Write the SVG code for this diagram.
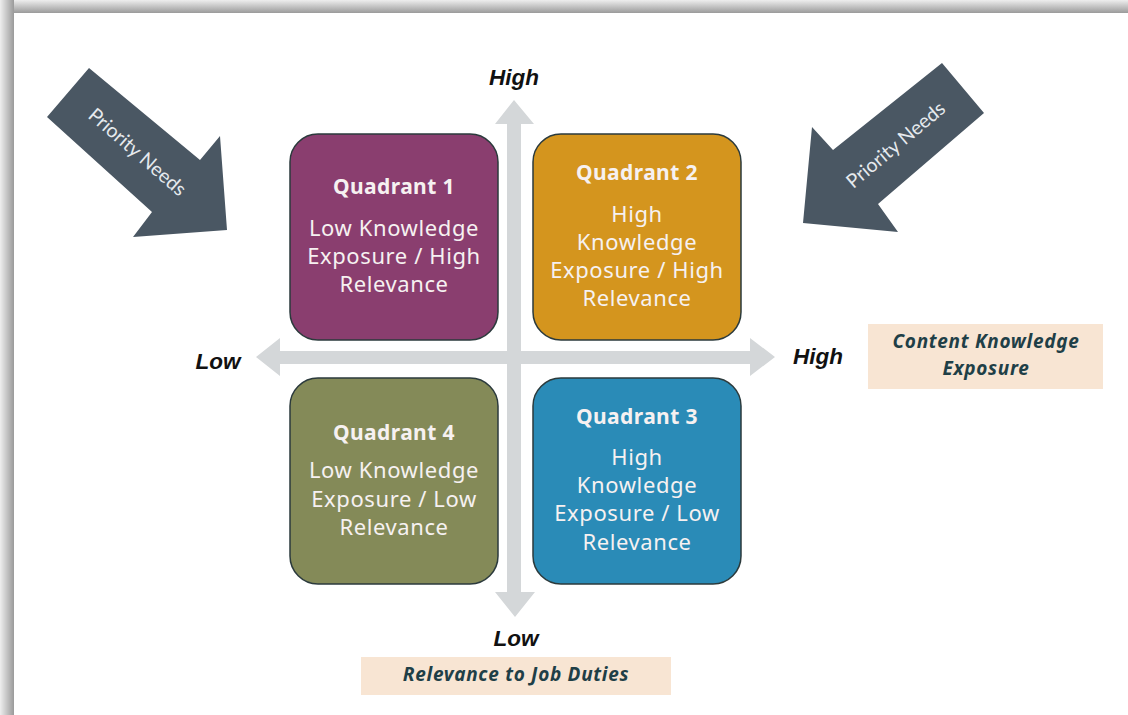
<svg xmlns="http://www.w3.org/2000/svg" width="1128" height="715" viewBox="0 0 1128 715">
<defs>
<linearGradient id="gTop" x1="0" y1="0" x2="0" y2="1">
<stop offset="0" stop-color="#eeeeee"/><stop offset="1" stop-color="#9a9a9a"/>
</linearGradient>
<linearGradient id="gLeft" x1="0" y1="0" x2="1" y2="0">
<stop offset="0" stop-color="#eeeeee"/><stop offset="1" stop-color="#9a9a9a"/>
</linearGradient>
<style>
.q{stroke:#2b3a3c;stroke-width:1.5}
.qt{font-family:"Noto Sans","Open Sans",sans-serif;font-weight:bold;font-size:21px;letter-spacing:0.4px;fill:#f6f1f1;text-anchor:middle}
.qb{font-family:"Noto Sans","Open Sans",sans-serif;font-size:22px;letter-spacing:0.6px;fill:#f6f1f1;text-anchor:middle}
.ax{fill:#d4d7d9}
.al{font-family:"Liberation Sans",Arial,sans-serif;font-weight:bold;font-style:italic;font-size:22.5px;fill:#111;text-anchor:middle}
.pb{fill:#f8e5d3}
.pt{font-family:"Noto Sans","Open Sans",sans-serif;font-weight:bold;font-style:italic;font-size:19px;letter-spacing:0.7px;fill:#1f3f47;text-anchor:middle}
.pa{fill:#4a5763}
.pn{font-family:"Lato","Noto Sans",sans-serif;font-size:19.5px;fill:#e6eaee;text-anchor:middle}
</style>
</defs>
<rect width="1128" height="715" fill="#ffffff"/>
<rect x="0" y="0" width="1128" height="13" fill="url(#gTop)"/>
<rect x="0" y="0" width="14" height="715" fill="url(#gLeft)"/>

<g id="connectors">
<path class="ax" d="M507,124 L495,124 L514,100 L534,124 L521,124 L521,592 L535,592 L515,617 L495,592 L507,592 Z"/>
<path class="ax" d="M280,351 L280,338 L256,357 L280,376 L280,364 L750,364 L750,376 L775,357 L750,338 L750,351 Z"/>
</g>

<g id="priority-left">
<polygon class="pa" points="89,68 200,160 220,136 227,230 133,237 152,212 47,117"/>
<text class="pn" transform="translate(133,157) rotate(41)">Priority Needs</text>
</g>
<g id="priority-right">
<polygon class="pa" points="942,63 833,150 812,127 803,223 898,232 878,204 984,113"/>
<text class="pn" transform="translate(900,150) rotate(-40)">Priority Needs</text>
</g>

<g id="quadrant1">
<rect class="q" x="290" y="134" width="208" height="206" rx="28" fill="#8a3e6f"/>
<text class="qt" x="394" y="194">Quadrant 1</text>
<text class="qb" x="394" y="236">Low Knowledge</text>
<text class="qb" x="394" y="264">Exposure / High</text>
<text class="qb" x="394" y="292">Relevance</text>
</g>
<g id="quadrant2">
<rect class="q" x="533" y="134" width="208" height="206" rx="28" fill="#d4951e"/>
<text class="qt" x="637" y="180">Quadrant 2</text>
<text class="qb" x="637" y="222">High</text>
<text class="qb" x="637" y="250">Knowledge</text>
<text class="qb" x="637" y="278">Exposure / High</text>
<text class="qb" x="637" y="306">Relevance</text>
</g>
<g id="quadrant4">
<rect class="q" x="290" y="378" width="208" height="206" rx="28" fill="#848a58"/>
<text class="qt" x="394" y="440">Quadrant 4</text>
<text class="qb" x="394" y="478">Low Knowledge</text>
<text class="qb" x="394" y="507">Exposure / Low</text>
<text class="qb" x="394" y="535">Relevance</text>
</g>
<g id="quadrant3">
<rect class="q" x="533" y="378" width="208" height="206" rx="28" fill="#2a8bb7"/>
<text class="qt" x="637" y="424">Quadrant 3</text>
<text class="qb" x="637" y="465">High</text>
<text class="qb" x="637" y="493">Knowledge</text>
<text class="qb" x="637" y="521">Exposure / Low</text>
<text class="qb" x="637" y="550">Relevance</text>
</g>

<g id="axis-labels">
<text class="al" x="514" y="85">High</text>
<text class="al" x="218" y="369">Low</text>
<text class="al" x="818" y="364">High</text>
<text class="al" x="516" y="646">Low</text>
</g>

<g id="label-x">
<rect class="pb" x="868" y="324" width="235" height="65"/>
<text class="pt" x="986" y="348">Content Knowledge</text>
<text class="pt" x="986" y="375">Exposure</text>
</g>
<g id="label-y">
<rect class="pb" x="361" y="657" width="310" height="38"/>
<text class="pt" x="516" y="681">Relevance to Job Duties</text>
</g>
</svg>
